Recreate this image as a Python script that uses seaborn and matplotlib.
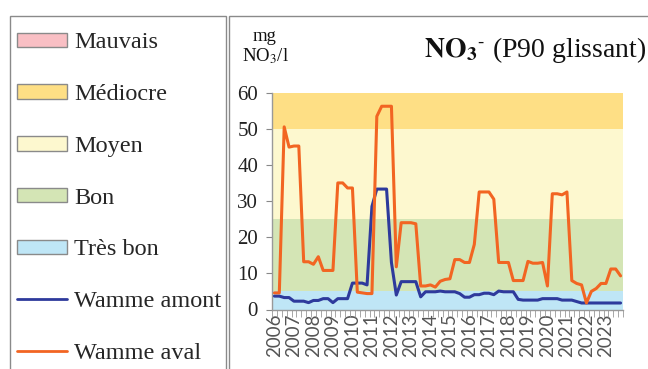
import matplotlib
matplotlib.use("Agg")
import matplotlib.pyplot as plt
import matplotlib.patches as mpatches
from matplotlib.lines import Line2D
import seaborn as sns
import pandas as pd
import numpy as np

years = [str(y) for y in range(2006, 2024)]
wamme_aval = [4.6, 4.6, 50.5, 44.9, 45.2, 45.2, 13.2, 13.2, 12.5, 14.6, 10.8, 10.8, 10.8,
              35.0, 35.0, 33.6, 33.6, 4.8, 4.6, 4.4, 4.4, 53.4, 56.2, 56.2, 56.2, 11.8,
              24.0, 24.0, 24.0, 23.7, 6.5, 6.5, 6.8, 6.2, 7.8, 8.3, 8.5, 13.8, 13.8, 13.0,
              13.0, 18.0, 32.5, 32.5, 32.5, 30.5, 13.0, 13.0, 13.0, 8.0, 8.0, 8.0, 13.3,
              12.8, 12.8, 13.0, 6.5, 32.0, 32.0, 31.7, 32.5, 8.0, 7.2, 6.8, 1.8, 5.0, 5.8,
              7.2, 7.2, 11.2, 11.2, 9.3]
wamme_amont = [3.7, 3.7, 3.3, 3.3, 2.3, 2.3, 2.3, 1.9, 2.5, 2.5, 3.0, 3.0, 1.9, 3.0, 3.0,
               3.0, 7.3, 7.3, 7.3, 6.8, 28.5, 33.3, 33.3, 33.3, 13.0, 4.0, 7.7, 7.7, 7.7,
               7.7, 3.5, 4.9, 4.9, 4.9, 5.1, 4.9, 4.9, 4.9, 4.4, 3.4, 3.4, 4.1, 4.1, 4.5,
               4.5, 4.1, 5.1, 4.9, 4.9, 4.9, 2.8, 2.6, 2.6, 2.6, 2.6, 3.0, 3.0, 3.0, 3.0,
               2.6, 2.6, 2.6, 2.2, 1.8, 1.8, 1.8, 1.8, 1.8, 1.8, 1.8, 1.8, 1.8]
class_names = ["Mauvais", "Médiocre", "Moyen", "Bon", "Très bon"]
class_bounds = [(60, 80), (50, 60), (25, 50), (5, 25), (0, 5)]
class_colors = ["#F9BFC4", "#FEDF85", "#FDF8CF", "#D4E5B5", "#BFE6F6"]
series_names = ["Wamme amont", "Wamme aval"]
series_colors = ["#2E3A9C", "#F26522"]

n = len(wamme_aval)
df = pd.DataFrame({
    "idx": list(range(n)) * 2,
    "val": wamme_amont + wamme_aval,
    "serie": [series_names[0]] * n + [series_names[1]] * n,
})

sns.set_style("white")
plt.rcParams["font.family"] = ["Liberation Serif", "DejaVu Serif"]
plt.rcParams["mathtext.fontset"] = "stix"

fig = plt.figure(figsize=(6.48, 3.69), dpi=100)
ax = fig.add_axes([272 / 648, 1 - 309.5 / 369, (623 - 272) / 648, (309.5 - 92.5) / 369])

for (lo, hi), c in zip(class_bounds, class_colors):
    ax.axhspan(lo, hi, color=c, lw=0, zorder=0)

sns.lineplot(data=df, x="idx", y="val", hue="serie", palette=series_colors,
             hue_order=series_names, linewidth=2.2, legend=False, ax=ax, zorder=3)

ax.set_xlim(-0.5, n - 0.5)
ax.set_ylim(0, 60)
ax.set_xlabel("")
ax.set_ylabel("")
ax.set_yticks(range(0, 61, 10))
ax.tick_params(axis="y", labelsize=15, length=4, color="#888888", pad=6, left=True, labelcolor="#222222")
for t in ax.get_yticklabels():
    t.set_fontfamily(["Liberation Serif"])
ax.set_xticks(np.arange(0, n, 4))
ax.set_xticklabels(years, rotation=90, fontsize=13.5, color="#555555", family=["Lato", "DejaVu Sans"])
ax.set_xticks(np.arange(-0.5, n, 1), minor=True)
ax.tick_params(axis="x", which="major", length=0, pad=3, bottom=True)
ax.tick_params(axis="x", which="minor", length=5, color="#999999", bottom=True)
for s in ["top", "right"]:
    ax.spines[s].set_visible(False)
for s in ["left", "bottom"]:
    ax.spines[s].set_color("#999999")
    ax.spines[s].set_linewidth(1.0)

# frames
fig.patches.append(mpatches.Rectangle((9.5 / 648, -0.05), (226 - 9.5) / 648, 1 - 15.5 / 369 + 0.05,
                                      transform=fig.transFigure, fill=False, ec="#8a8a8a", lw=1.0))
fig.patches.append(mpatches.Rectangle((228.5 / 648, -0.05), 0.7, 1 - 15.5 / 369 + 0.05,
                                      transform=fig.transFigure, fill=False, ec="#8a8a8a", lw=1.0))

# unit and title
fig.text(265 / 648, 1 - 47 / 369, "mg\nNO$_3$/l", ha="center", va="center", fontsize=13.5,
         linespacing=1.1, color="#111111")
fig.text(646 / 648, 1 - 50 / 369, r"$\mathbf{NO_3}^{\text{-}}$ (P90 glissant)", ha="right", va="center",
         fontsize=20, color="#111111")

# legend
handles = [mpatches.Patch(facecolor=c, edgecolor="#8a8a8a", lw=1.0) for c in class_colors]
handles += [Line2D([], [], color=c, lw=2.0) for c in series_colors]
labels = class_names + series_names
leg = fig.legend(handles, labels, loc="upper left", bbox_to_anchor=(17 / 648, 1 - 32.5 / 369),
                 frameon=False, fontsize=17.5, handlelength=2.05, handleheight=0.55,
                 handletextpad=0.3, labelspacing=1.265, borderaxespad=0, borderpad=0)

fig.savefig("out.png", dpi=100)
